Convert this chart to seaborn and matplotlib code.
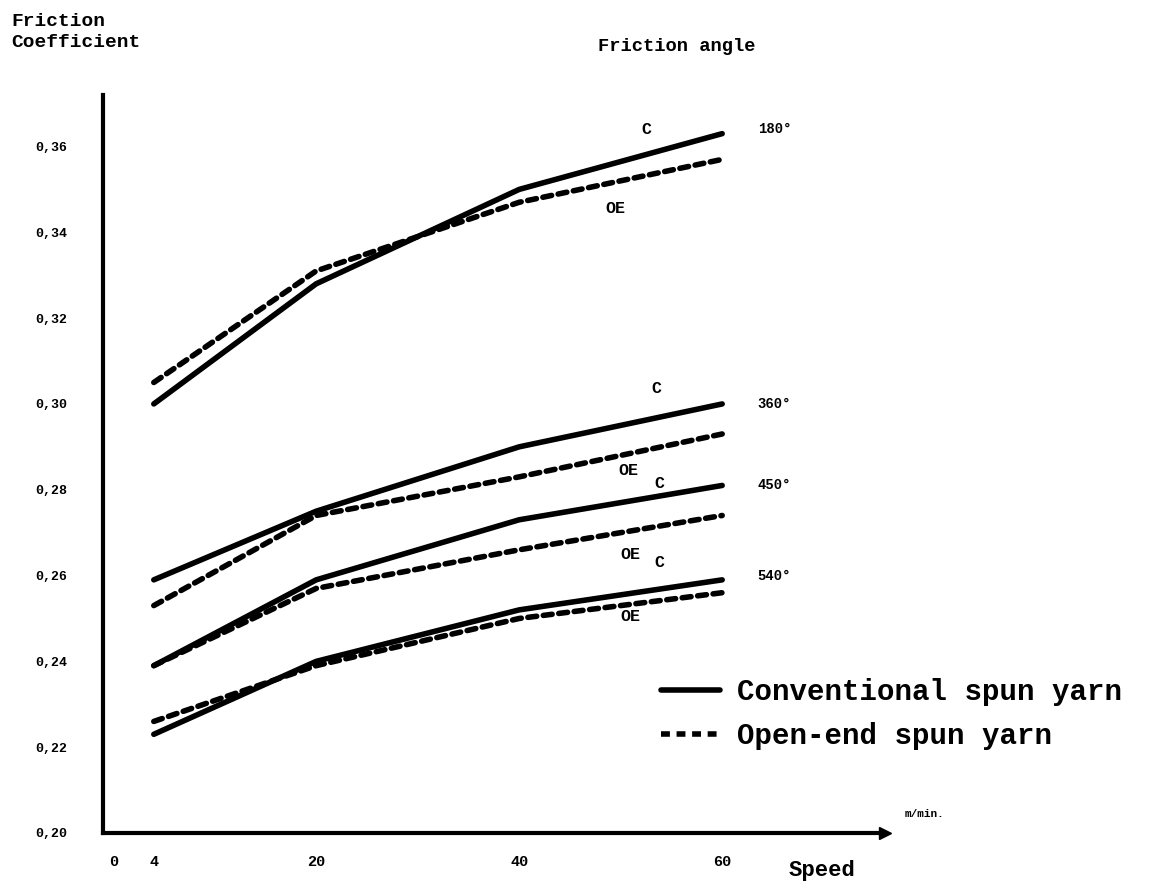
import matplotlib
matplotlib.use("Agg")
import matplotlib.pyplot as plt
import numpy as np
import pandas as pd
import seaborn as sns

# values
speeds = [4, 20, 40, 60]
angles = ["180°", "360°", "450°", "540°"]
conventional = {
    "180°": [0.300, 0.328, 0.350, 0.363],
    "360°": [0.259, 0.275, 0.290, 0.300],
    "450°": [0.239, 0.259, 0.273, 0.281],
    "540°": [0.223, 0.240, 0.252, 0.259],
}
open_end = {
    "180°": [0.305, 0.331, 0.347, 0.357],
    "360°": [0.253, 0.274, 0.283, 0.293],
    "450°": [0.239, 0.257, 0.266, 0.274],
    "540°": [0.226, 0.239, 0.250, 0.256],
}
y_ticks = [0.20, 0.22, 0.24, 0.26, 0.28, 0.30, 0.32, 0.34, 0.36]
x_ticks = [0, 4, 20, 40, 60]
yarn_names = ["Conventional spun yarn", "Open-end spun yarn"]

rows = []
for a in angles:
    for s, v in zip(speeds, conventional[a]):
        rows.append({"speed": s, "mu": v, "angle": a, "yarn": yarn_names[0]})
    for s, v in zip(speeds, open_end[a]):
        rows.append({"speed": s, "mu": v, "angle": a, "yarn": yarn_names[1]})
df = pd.DataFrame(rows)

sns.set_style("white")
plt.rcParams["font.family"] = ["Liberation Mono", "DejaVu Sans Mono"]
plt.rcParams["font.weight"] = "bold"
plt.rcParams["text.color"] = "black"
plt.rcParams["xtick.color"] = "black"
plt.rcParams["ytick.color"] = "black"

fig = plt.figure(figsize=(11.63, 8.93), dpi=100)
ax = fig.add_axes([0.0886, 0.0672, 0.672, 0.8264])

sns.lineplot(data=df, x="speed", y="mu", units="angle", style="yarn",
             estimator=None, color="black", linewidth=4,
             dashes={yarn_names[0]: "", yarn_names[1]: (1.6, 1.2)},
             style_order=yarn_names, ax=ax)
for ln in ax.lines:
    ln.set_solid_capstyle("round")
    ln.set_dash_capstyle("round")

ax.set_xlim(-1, 76)
ax.set_ylim(0.20, 0.372)
ax.set_xticks(x_ticks)
ax.set_xticklabels([str(t) for t in x_ticks], fontsize=11, fontweight="bold")
ax.set_yticks(y_ticks)
ax.set_yticklabels([("%.2f" % t).replace(".", ",") for t in y_ticks],
                   fontsize=9.5, fontweight="bold")
ax.tick_params(axis="y", direction="in", length=5, width=2, pad=26)
ax.tick_params(axis="x", direction="in", length=4, width=2, pad=16)
ax.set_xlabel("")
ax.set_ylabel("")
for side in ["top", "right"]:
    ax.spines[side].set_visible(False)
for side in ["left", "bottom"]:
    ax.spines[side].set_linewidth(3)
    ax.spines[side].set_color("black")
ax.plot(1, 0, ">k", transform=ax.transAxes, clip_on=False, markersize=8)

# curve labels
curve_tags = {
    "180°": ((52.5, 0.3640), (49.5, 0.3455), 0.364),
    "360°": ((53.5, 0.3035), (50.8, 0.2845), 0.300),
    "450°": ((53.8, 0.2815), (51.0, 0.2650), 0.281),
    "540°": ((53.8, 0.2630), (51.0, 0.2505), 0.260),
}
for a in angles:
    (cx, cy), (ox, oy), ay = curve_tags[a]
    ax.text(cx, cy, "C", fontsize=12, fontweight="bold", ha="center", va="center")
    ax.text(ox, oy, "OE", fontsize=12, fontweight="bold", ha="center", va="center")
    ax.text(63.5, ay, a, fontsize=10, fontweight="bold", ha="left", va="center")

fig.text(0.010, 0.985, "Friction\nCoefficient", fontsize=14, fontweight="bold",
         ha="left", va="top", linespacing=1.3)
fig.text(0.514, 0.948, "Friction angle", fontsize=13.5, fontweight="bold",
         ha="left", va="center")
fig.text(0.678, 0.025, "Speed", fontsize=16, fontweight="bold", ha="left", va="center")
fig.text(0.778, 0.088, "m/min.", fontsize=8, fontweight="bold", ha="left", va="center")

sns.move_legend(ax, "upper left", bbox_to_anchor=(0.546, 0.27),
                bbox_transform=fig.transFigure, frameon=False, title=None,
                prop={"size": 21, "weight": "bold"}, handlelength=2.0,
                handletextpad=0.6, labelspacing=0.55)
for h in ax.get_legend().get_lines():
    h.set_linewidth(4)

fig.savefig("out.png", dpi=100)
